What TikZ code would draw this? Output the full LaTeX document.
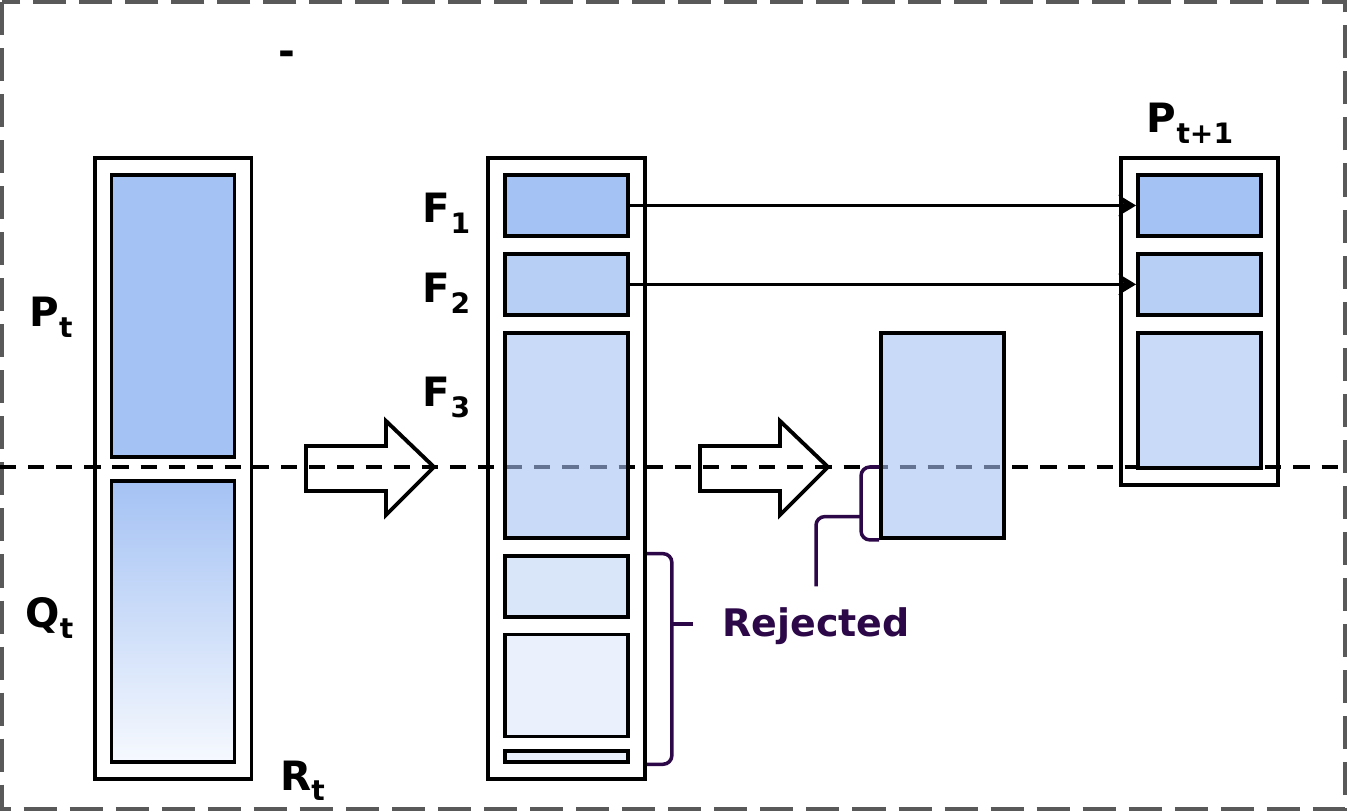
\documentclass[tikz,border=0pt]{standalone}
\usepackage{fontspec}
\setmainfont{DejaVu Sans}
\usepackage{tikz}
\usetikzlibrary{arrows.meta, fit, calc, positioning}

\definecolor{popA}{HTML}{A4C2F4}
\definecolor{popB}{HTML}{B7CFF5}
\definecolor{popC}{HTML}{C9DAF8}
\definecolor{popV}{HTML}{A5C1F3}
\definecolor{popD}{HTML}{D9E5F9}
\definecolor{popE}{HTML}{EAF1FC}
\definecolor{qmid}{HTML}{9FB4E0}
\definecolor{qlow}{HTML}{F6F9FE}
\definecolor{rejcol}{RGB}{44,8,72}
\definecolor{framegray}{HTML}{595959}

\newcommand{\lsub}[1]{\raisebox{-3pt}{\fontsize{8}{9}\selectfont #1}}

\tikzset{
  box/.style={draw=black, line width=1.1pt, minimum width=1.23cm, inner sep=0pt},
  lbl/.style={font=\fontsize{11.5}{13}\selectfont\bfseries, anchor=base, inner sep=0pt},
  rejline/.style={draw=rejcol, line width=1pt, rounded corners=2.5pt},
  bigarrow/.style={draw=black, line width=1.1pt, line join=miter},
}

\begin{document}
\begin{tikzpicture}[x=1cm, y=-1cm, >={Stealth[length=5pt,width=6pt]}, node distance=0.14cm]
    \useasboundingbox (0,0) rectangle (13.48,8.12);
    \draw[framegray, line width=1.1pt, dash pattern=on 9.4pt off 3.7pt] (0.02,0.02) rectangle (13.45,8.09);

    % cut between kept and rejected
    \coordinate (cutL) at (0,4.67);
    \coordinate (cutR) at (13.48,4.67);
    \draw[line width=1.05pt, dash pattern=on 4.6pt off 3.4pt] (cutL) -- (cutR);

    \node[box, fill=popA, minimum height=2.82cm] (Pt) at (1.73,3.16) {};
    \node[box, top color=popA, middle color=qmid, bottom color=qlow, minimum height=2.81cm, below=0.2cm of Pt] (Qt) {};
    \node[box, fit=(Pt) (Qt), inner sep=0.15cm] (R) {};

    \node[box, fill=popA, minimum height=0.61cm] (F1) at (5.665,2.055) {};
    \node[box, fill=popB, minimum height=0.61cm, below=of F1] (F2) {};
    \node[box, fill=popV, fill opacity=0.6, minimum height=2.05cm, below=of F2] (F3) {};
    \node[box, fill=popD, minimum height=0.61cm, below=of F3] (F4) {};
    \node[box, fill=popE, minimum height=1.02cm, below=of F4] (F5) {};
    \node[box, fill=popE, minimum height=0.11cm, below=0.11cm of F5] (F6) {};
    \node[box, fit=(F1) (F6), inner sep=0.15cm] (S) {};

    \node[box, fill=popA, minimum height=0.61cm] (N1) at (11.995,2.055) {};
    \node[box, fill=popB, minimum height=0.61cm, below=of N1] (N2) {};
    \node[box, fill=popC, minimum height=1.35cm, below=of N2] (N3) {};
    \node[box, fit=(N1) (N3), inner sep=0.15cm] (N) {};

    \node[box, fill=popV, fill opacity=0.6, minimum height=2.05cm] (T) at (9.425,4.355) {};

    \draw[bigarrow] (3.06,4.46) -- (3.86,4.46) -- (3.86,4.21) -- (4.34,4.67) -- (3.86,5.15) -- (3.86,4.91) -- (3.06,4.91) -- cycle;
    \draw[bigarrow] (7.00,4.46) -- (7.80,4.46) -- (7.80,4.21) -- (8.28,4.67) -- (7.80,5.15) -- (7.80,4.91) -- (7.00,4.91) -- cycle;

    \draw[->, line width=1pt] (F1) -- (N1);
    \draw[->, line width=1pt] (F2) -- (N2);

    \node[lbl] (lP) at (0.51,3.27) {P\lsub{t}};
    \node[lbl] (lQ) at (0.495,6.28) {Q\lsub{t}};
    \node[lbl] (lR) at (3.025,7.90) {R\lsub{t}};
    \node[lbl] (lF1) at (4.465,2.23) {F\lsub{1}};
    \node[lbl] (lF2) at (4.465,3.03) {F\lsub{2}};
    \node[lbl] (lF3) at (4.465,4.07) {F\lsub{3}};
    \node[lbl] (lN) at (11.90,1.33) {P\lsub{t+1}};
    \node[lbl] (mark) at (2.87,0.66) {-};

    % rejected members
    \node[lbl, text=rejcol, font=\fontsize{10.8}{13}\selectfont\bfseries] (rej) at (8.16,6.37) {Rejected};
    \coordinate (bA) at (S.east |- F4.north);
    \coordinate (bB) at (S.east |- F6.south);
    \coordinate (bM) at ($(bA)!0.335!(bB)$);
    \draw[rejline] (bA) -- ([xshift=0.25cm]bA) -- ([xshift=0.25cm]bB) -- (bB);
    \draw[rejline] ([xshift=0.25cm]bM) -- ([xshift=0.46cm]bM);

    \coordinate (ttop) at (T.west |- cutL);
    \coordinate (tbot) at (T.south west);
    \coordinate (tM) at ($(ttop)!0.68!(tbot)$);
    \draw[rejline] (ttop) -- ([xshift=-0.18cm]ttop) -- ([xshift=-0.18cm]tbot) -- (tbot);
    \draw[rejline, shorten >=0.21cm] ([xshift=-0.18cm]tM) -| (rej.north);
\end{tikzpicture}
\end{document}
